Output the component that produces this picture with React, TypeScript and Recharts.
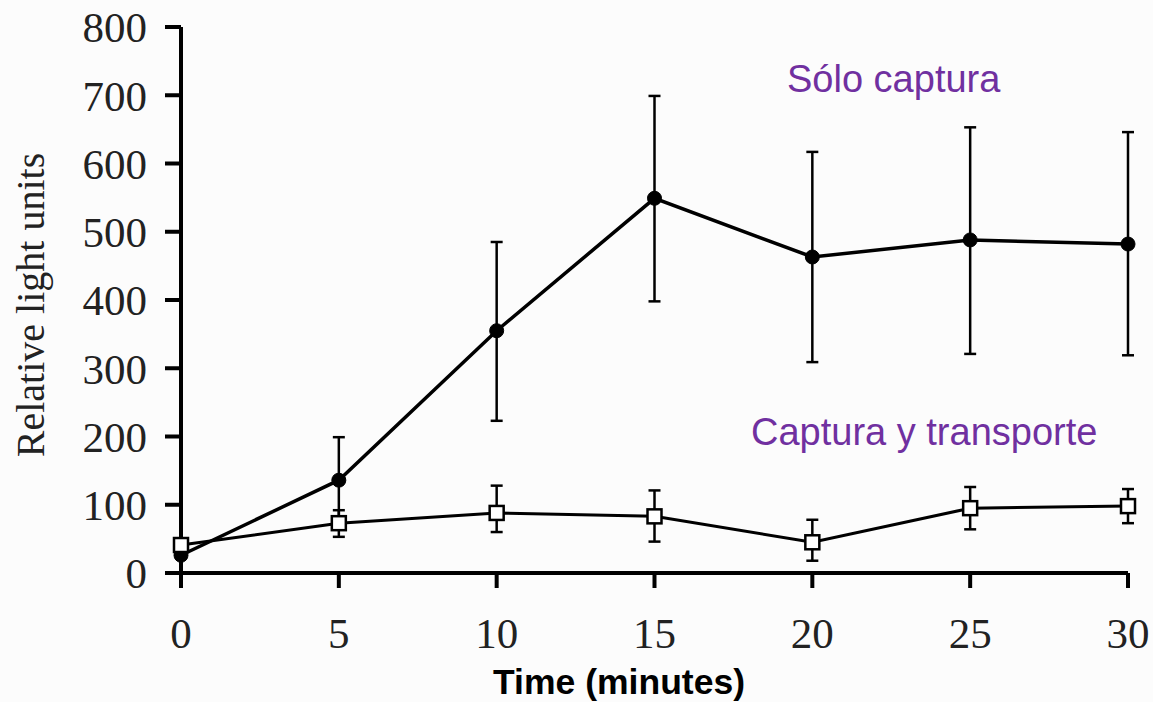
import React from "react";
import { LineChart, Line, XAxis, YAxis, ErrorBar, Label } from "recharts";

const times = [0, 5, 10, 15, 20, 25, 30];
const yTicks = [0, 100, 200, 300, 400, 500, 600, 700, 800];

// "Sólo captura" (filled circles)
const captureMean = [26, 136, 355, 549, 463, 488, 482];
const captureLow = [22, 73, 223, 398, 309, 321, 319];
const captureHigh = [30, 199, 485, 699, 617, 653, 646];

// "Captura y transporte" (open squares)
const transportMean = [41, 73, 88, 83, 45, 95, 98];
const transportLow = [38, 53, 60, 46, 18, 64, 73];
const transportHigh = [44, 92, 128, 121, 78, 126, 123];

const data = times.map((t, i) => ({
  t,
  capture: captureMean[i],
  captureErr: [captureMean[i] - captureLow[i], captureHigh[i] - captureMean[i]],
  transport: transportMean[i],
  transportErr: [transportMean[i] - transportLow[i], transportHigh[i] - transportMean[i]],
}));

const serif = "'Liberation Serif', 'Times New Roman', serif";
const sans = "'Liberation Sans', Arial, sans-serif";
const purple = "#7030a0";

function SquareDot(props: any) {
  const { cx, cy, index } = props;
  return (
    <rect
      key={`sq-${index}`}
      x={cx - 7}
      y={cy - 7}
      width={14}
      height={14}
      fill="#fff"
      stroke="#000"
      strokeWidth={2.5}
    />
  );
}

export default function App() {
  return (
    <div
      style={{
        position: "absolute",
        left: 0,
        top: 0,
        width: 1153,
        height: 702,
        background: "#fcfcfc",
        overflow: "hidden",
      }}
    >
      <LineChart
        width={1153}
        height={702}
        data={data}
        margin={{ top: 27, right: 25, left: 0, bottom: 0 }}
      >
        <XAxis
          dataKey="t"
          type="number"
          domain={[0, 30]}
          ticks={times}
          height={129}
          tickSize={15}
          tickMargin={29}
          axisLine={{ stroke: "#000", strokeWidth: 4 }}
          tickLine={{ stroke: "#000", strokeWidth: 4 }}
          tick={{ fill: "#222", fontSize: 43, fontFamily: serif }}
        >
          <Label
            content={() => (
              <text
                x={619}
                y={694}
                textAnchor="middle"
                fontFamily={sans}
                fontWeight="bold"
                fontSize={35}
                fill="#000"
                textLength={252}
                lengthAdjust="spacingAndGlyphs"
              >
                Time (minutes)
              </text>
            )}
          />
        </XAxis>
        <YAxis
          type="number"
          domain={[0, 800]}
          ticks={yTicks}
          width={181}
          tickSize={16}
          tickMargin={18}
          axisLine={{ stroke: "#000", strokeWidth: 4 }}
          tickLine={{ stroke: "#000", strokeWidth: 4 }}
          tick={{ fill: "#222", fontSize: 43, fontFamily: serif }}
        >
          <Label
            content={({ viewBox }: any) => {
              const cy = viewBox.y + viewBox.height / 2 + 5;
              return (
                <text
                  x={44}
                  y={cy}
                  transform={`rotate(-90, 44, ${cy})`}
                  textAnchor="middle"
                  fontFamily={serif}
                  fontSize={40}
                  fill="#222"
                >
                  Relative light units
                </text>
              );
            }}
          />
        </YAxis>
        <Line
          dataKey="capture"
          stroke="#000"
          strokeWidth={3.5}
          dot={{ r: 7, fill: "#000", stroke: "#000", strokeWidth: 1 }}
          activeDot={false}
          isAnimationActive={false}
        >
          <ErrorBar dataKey="captureErr" direction="y" width={6} stroke="#000" strokeWidth={2.5} />
        </Line>
        <Line
          dataKey="transport"
          stroke="#000"
          strokeWidth={3}
          dot={SquareDot}
          activeDot={false}
          isAnimationActive={false}
        >
          <ErrorBar dataKey="transportErr" direction="y" width={6} stroke="#000" strokeWidth={2.5} />
        </Line>
      </LineChart>
      <div
        style={{
          position: "absolute",
          left: 787,
          top: 56,
          fontFamily: sans,
          fontSize: 38,
          color: purple,
          whiteSpace: "nowrap",
          lineHeight: "46px",
        }}
      >
        Sólo captura
      </div>
      <div
        style={{
          position: "absolute",
          left: 751,
          top: 409,
          fontFamily: sans,
          fontSize: 38,
          color: purple,
          whiteSpace: "nowrap",
          lineHeight: "46px",
        }}
      >
        Captura y transporte
      </div>
    </div>
  );
}
